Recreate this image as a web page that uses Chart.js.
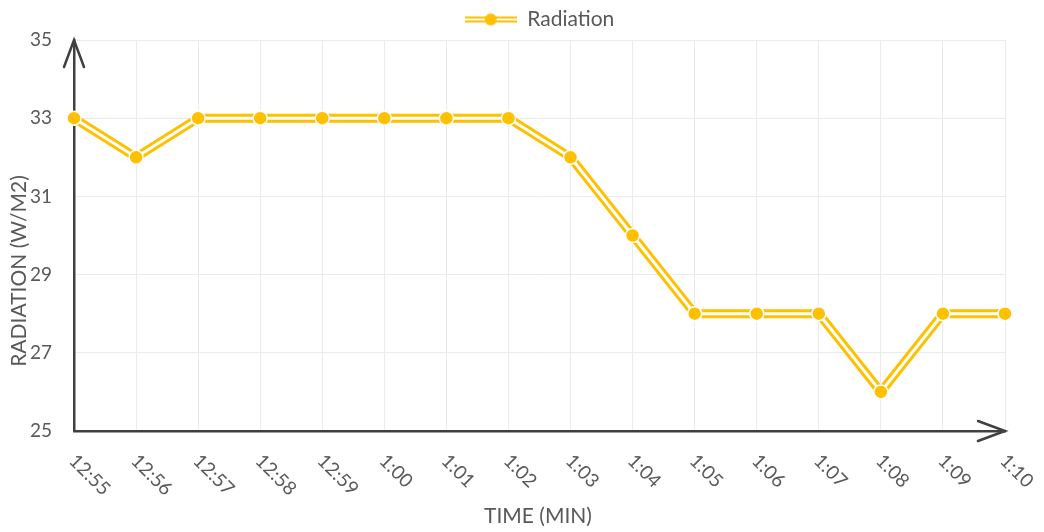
<!DOCTYPE html>
<html>
<head>
<meta charset="utf-8">
<script src="https://cdn.jsdelivr.net/npm/chart.js@4/dist/chart.umd.min.js"></script>
<style>
  html, body { margin: 0; padding: 0; background: #fff; }
  #wrap { width: 1044px; height: 532px; }
</style>
</head>
<body>
<div id="wrap"><canvas id="radChart" width="1044" height="532"></canvas></div>
<script>
const timeLabels = ["12:55", "12:56", "12:57", "12:58", "12:59", "1:00", "1:01", "1:02",
                    "1:03", "1:04", "1:05", "1:06", "1:07", "1:08", "1:09", "1:10"];
const radiation = [33, 32, 33, 33, 33, 33, 33, 33, 32, 30, 28, 28, 28, 26, 28, 28];
const yMin = 25, yMax = 35, yStep = 2;

const GOLD = "#FFC000";
const TEXT = "#595959";
const AXIS = "#404040";
const FONT = "Lato, 'Open Sans', sans-serif";

// legend icon: double line with a dot in the middle
function legendIcon() {
  let c = document.createElement("canvas");
  c.width = 52; c.height = 14;
  let g = c.getContext("2d");
  g.fillStyle = GOLD;
  g.fillRect(0, 4, 52, 2);
  g.fillRect(0, 8, 52, 2);
  g.beginPath();
  g.arc(26, 7, 6, 0, Math.PI * 2);
  g.fill();
  return c;
}

// arrows on both axes, custom rotated x labels and axis titles
const axisExtras = {
  id: "axisExtras",
  beforeDatasetsDraw(chart) {
    let ctx = chart.ctx, a = chart.chartArea;
    ctx.save();
    ctx.strokeStyle = AXIS;
    ctx.lineWidth = 2.5;
    ctx.lineCap = "round";
    ctx.beginPath();
    ctx.moveTo(a.left - 10, a.top + 27);
    ctx.lineTo(a.left, a.top);
    ctx.lineTo(a.left + 10, a.top + 27);
    ctx.moveTo(a.right - 27, a.bottom - 10);
    ctx.lineTo(a.right, a.bottom);
    ctx.lineTo(a.right - 27, a.bottom + 10);
    ctx.stroke();
    ctx.restore();
  },
  afterDraw(chart) {
    let ctx = chart.ctx, a = chart.chartArea, x = chart.scales.x;
    ctx.save();
    ctx.fillStyle = TEXT;
    ctx.font = "19px " + FONT;
    ctx.textAlign = "left";
    ctx.textBaseline = "top";
    timeLabels.forEach((lab, i) => {
      let px = x.getPixelForValue(i);
      ctx.save();
      ctx.translate(px + 5, a.bottom + 20);
      ctx.rotate(Math.PI / 4);
      ctx.fillText(lab, 0, 0);
      ctx.restore();
    });
    ctx.font = "21px " + FONT;
    ctx.textAlign = "center";
    ctx.textBaseline = "middle";
    ctx.fillText("TIME (MIN)", 538, 516);
    ctx.translate(19, 271);
    ctx.rotate(-Math.PI / 2);
    ctx.fillText("RADIATION (W/M2)", 0, 0);
    ctx.restore();
  }
};

new Chart(document.getElementById("radChart"), {
  type: "line",
  data: {
    labels: timeLabels,
    datasets: [
      {
        label: "Radiation",
        data: radiation,
        borderColor: GOLD,
        borderWidth: 9,
        pointRadius: 0,
        pointStyle: legendIcon(),
        tension: 0,
        order: 2
      },
      {
        label: "inner",
        data: radiation,
        borderColor: "#ffffff",
        borderWidth: 3,
        pointRadius: 0,
        tension: 0,
        order: 1
      },
      {
        label: "points",
        data: radiation,
        showLine: false,
        pointRadius: 7,
        pointBackgroundColor: GOLD,
        pointBorderColor: "#ffffff",
        pointBorderWidth: 1.5,
        order: 0
      }
    ]
  },
  options: {
    responsive: false,
    animation: false,
    layout: { padding: { top: 0, right: 39, bottom: 0, left: 0 } },
    plugins: {
      tooltip: { enabled: false },
      legend: {
        position: "top",
        fullSize: false,
        labels: {
          filter: item => item.datasetIndex === 0,
          usePointStyle: true,
          pointStyleWidth: 52,
          color: TEXT,
          font: { family: FONT, size: 21 },
          padding: 9
        }
      }
    },
    scales: {
      x: {
        offset: false,
        grid: { color: "#ebebeb", lineWidth: 1, drawTicks: false },
        border: { color: AXIS, width: 2.5 },
        ticks: { display: false },
        afterFit: s => { s.height = 101; }
      },
      y: {
        min: yMin,
        max: yMax,
        grid: { color: "#ebebeb", lineWidth: 1, drawTicks: false },
        border: { color: AXIS, width: 2.5 },
        ticks: {
          stepSize: yStep,
          color: TEXT,
          font: { family: FONT, size: 19 },
          padding: 22
        },
        afterFit: s => { s.width = 74; }
      }
    }
  },
  plugins: [axisExtras]
});
</script>
</body>
</html>
